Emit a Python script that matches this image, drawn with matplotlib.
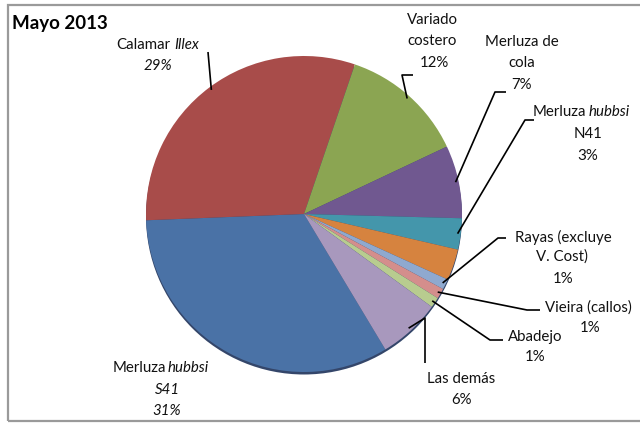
import numpy as np
import matplotlib.pyplot as plt
from matplotlib.patches import Circle, Rectangle

plt.rcParams['font.family'] = ['Lato', 'DejaVu Sans']

# Mayo 2013 - participacion por especie (%)
especies = ['Merluza hubbsi S41', 'Calamar Illex', 'Variado costero', 'Merluza de cola',
            'Merluza hubbsi N41', 'Otras', 'Rayas (excluye V. Cost)', 'Vieira (callos)',
            'Abadejo', 'Las demás']
porcentajes = [31, 29, 12, 7, 3, 3, 1, 1, 1, 6]
colores = ['#4a72a6', '#a84c4a', '#8ba552', '#705890', '#4496ab', '#d6833f',
           '#8fa9cf', '#d48e8c', '#b8cc8f', '#a898bd']

W, H = 640, 423
cx, cy, R = 304, 214, 158


def py(y):
    # pasar de coordenadas de imagen (y hacia abajo) a y hacia arriba
    return H - y


fig = plt.figure(figsize=(6.4, 4.23), dpi=100)
ax = fig.add_axes([0, 0, 1, 1])

# sombra del borde inferior (efecto 3D)
ax.add_patch(Circle((cx, py(cy) - 2.5), R, color='#34466a', lw=0))

wedges, _ = ax.pie(porcentajes, colors=colores, startangle=-59, counterclock=False,
                   center=(cx, py(cy)), radius=R, wedgeprops=dict(linewidth=0))

ax.set_xlim(0, W)
ax.set_ylim(0, H)
ax.axis('off')

# marco del grafico
ax.add_patch(Rectangle((7.5, py(421.5)), 700, 417, fill=False, ec='#9a9a9a', lw=1.6))


def borde(i, f=0.98):
    w = wedges[i]
    th = np.deg2rad((w.theta1 + w.theta2) / 2)
    return cx + R * f * np.cos(th), py(cy) + R * f * np.sin(th)


def linea(i, puntos):
    x0, y0 = borde(i)
    xs = [x0] + [p[0] for p in puntos]
    ys = [y0] + [py(p[1]) for p in puntos]
    ax.plot(xs, ys, color='black', lw=1.2, solid_capstyle='butt')


def txt(x, y, s, ha='center', estilo='normal'):
    ax.text(x, py(y), s, ha=ha, va='center', fontsize=10.8, style=estilo, color='#111111')


fig.text(12 / W, 1 - 23 / H, 'Mayo 2013', fontsize=13.5, fontweight='bold', va='center')

# Merluza hubbsi S41
txt(166, 368, 'Merluza', ha='right')
txt(168, 368, 'hubbsi', ha='left', estilo='italic')
txt(167, 390, 'S41', estilo='italic')
txt(167, 411, f'{porcentajes[0]}%', estilo='italic')

# Calamar Illex
txt(170, 45, 'Calamar', ha='right')
txt(174, 45, 'Illex', ha='left', estilo='italic')
txt(158, 66, f'{porcentajes[1]}%', estilo='italic')
linea(1, [(208, 52)])

# Variado costero
txt(432, 20, 'Variado')
txt(432, 41, 'costero')
txt(434, 63, f'{porcentajes[2]}%')
linea(2, [(402, 75), (413, 75)])

# Merluza de cola
txt(522, 42, 'Merluza de')
txt(522, 63, 'cola')
txt(522, 85, f'{porcentajes[3]}%')
linea(3, [(495, 92), (506, 92)])

# Merluza hubbsi N41
txt(586, 112, 'Merluza', ha='right')
txt(589, 112, 'hubbsi', ha='left', estilo='italic')
txt(588, 134, 'N41')
txt(588, 156, f'{porcentajes[4]}%')
linea(4, [(525, 120), (534, 120)])

# Rayas
txt(563, 237, 'Rayas (excluye')
txt(562, 257, 'V. Cost)')
txt(563, 279, f'{porcentajes[6]}%')
linea(6, [(498, 238), (506, 238)])

# Vieira
txt(588, 308, 'Vieira (callos)')
txt(590, 328, f'{porcentajes[7]}%')
linea(7, [(527, 310), (540, 310)])

# Abadejo
txt(535, 337, 'Abadejo')
txt(535, 357, f'{porcentajes[8]}%')
linea(8, [(490, 340), (503, 340)])

# Las demas
txt(461, 379, 'Las demás')
txt(462, 400, f'{porcentajes[9]}%')
linea(9, [(425, 318), (425, 363)])

fig.savefig('out.png', dpi=100)
